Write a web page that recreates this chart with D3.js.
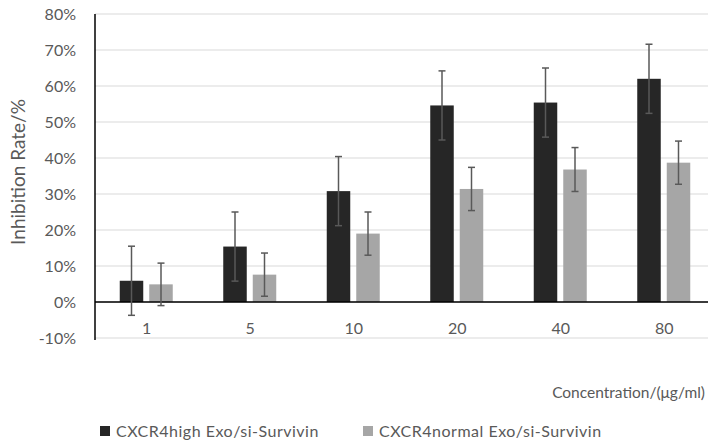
<!DOCTYPE html>
<html>
<head>
<meta charset="utf-8">
<script src="https://cdn.jsdelivr.net/npm/d3@7"></script>
<style>
  body { margin: 0; background: #fff; }
  text { font-family: Lato, "Open Sans", sans-serif; fill: #595959; }
</style>
</head>
<body>
<div id="chart"></div>
<script>
// data (percent)
var concentrations = ["1", "5", "10", "20", "40", "80"];
var seriesNames = ["CXCR4high Exo/si-Survivin", "CXCR4normal Exo/si-Survivin"];
var highValues = [5.9, 15.4, 30.8, 54.6, 55.4, 62.0];
var highErrors = [9.6, 9.6, 9.6, 9.6, 9.6, 9.6];
var normalValues = [4.9, 7.6, 19.0, 31.4, 36.8, 38.7];
var normalErrors = [5.9, 6.0, 6.0, 6.0, 6.1, 6.0];
var yTicks = [-10, 0, 10, 20, 30, 40, 50, 60, 70, 80];
var colors = ["#262626", "#a6a6a6"];

var width = 708, height = 442;
var margin = { top: 14, left: 95, bottom: 338, right: 716 };

var svg = d3.select("#chart").append("svg")
    .attr("width", width)
    .attr("height", height);

var x = d3.scaleBand()
    .domain(concentrations)
    .range([margin.left, margin.right]);

var y = d3.scaleLinear()
    .domain([-10, 80])
    .range([margin.bottom, margin.top]);

var data = concentrations.map(function(c, i) {
    return [
        { cat: c, s: 0, v: highValues[i], e: highErrors[i] },
        { cat: c, s: 1, v: normalValues[i], e: normalErrors[i] }
    ];
});
var flat = [].concat.apply([], data);

// gridlines
svg.append("g")
    .selectAll("line")
    .data(yTicks)
    .enter().append("line")
    .attr("x1", margin.left)
    .attr("x2", width)
    .attr("y1", function(d) { return y(d); })
    .attr("y2", function(d) { return y(d); })
    .style("stroke", "#d9d9d9")
    .style("stroke-width", 1);

// y tick labels
svg.append("g")
    .selectAll("text")
    .data(yTicks)
    .enter().append("text")
    .attr("x", 76)
    .attr("y", function(d) { return y(d); })
    .attr("dy", "0.35em")
    .attr("text-anchor", "end")
    .style("font-size", "16px")
    .text(function(d) { return d + "%"; });

var barW = 23.5, gap = 6;
function barX(d) {
    var c = x(d.cat) + x.bandwidth() / 2 - 0.5;
    return d.s === 0 ? c - gap / 2 - barW : c + gap / 2;
}

svg.append("g")
    .selectAll("rect")
    .data(flat)
    .enter().append("rect")
    .attr("x", barX)
    .attr("width", barW)
    .attr("y", function(d) { return y(Math.max(d.v, 0)); })
    .attr("height", function(d) { return Math.abs(y(d.v) - y(0)); })
    .style("fill", function(d) { return colors[d.s]; });

// axes lines
svg.append("line")
    .attr("x1", margin.left).attr("x2", width)
    .attr("y1", y(0)).attr("y2", y(0))
    .style("stroke", "#000").style("stroke-width", 1.5);

svg.append("line")
    .attr("x1", margin.left).attr("x2", margin.left)
    .attr("y1", margin.top).attr("y2", margin.bottom + 2)
    .style("stroke", "#000").style("stroke-width", 1.5);

// error bars
var err = svg.append("g")
    .selectAll("g")
    .data(flat)
    .enter().append("g")
    .style("stroke", "#595959")
    .style("stroke-width", 1.5);

err.append("line")
    .attr("x1", function(d) { return barX(d) + barW / 2; })
    .attr("x2", function(d) { return barX(d) + barW / 2; })
    .attr("y1", function(d) { return y(d.v + d.e); })
    .attr("y2", function(d) { return y(d.v - d.e); });

[1, -1].forEach(function(sign) {
    err.append("line")
        .attr("x1", function(d) { return barX(d) + barW / 2 - 3.5; })
        .attr("x2", function(d) { return barX(d) + barW / 2 + 3.5; })
        .attr("y1", function(d) { return y(d.v + sign * d.e); })
        .attr("y2", function(d) { return y(d.v + sign * d.e); });
});

// category labels
svg.append("g")
    .selectAll("text")
    .data(concentrations)
    .enter().append("text")
    .attr("x", function(d) { return x(d) + x.bandwidth() / 2; })
    .attr("y", 334)
    .attr("text-anchor", "middle")
    .style("font-size", "16px")
    .text(function(d) { return d; });

// axis titles
svg.append("text")
    .attr("transform", "translate(25,172) rotate(-90)")
    .attr("text-anchor", "middle")
    .style("font-size", "19px")
    .text("Inhibition Rate/%");

svg.append("text")
    .attr("x", 705)
    .attr("y", 398)
    .attr("text-anchor", "end")
    .style("font-size", "15.5px")
    .text("Concentration/(μg/ml)");

// legend
var legendX = [100, 363];
var legend = svg.append("g")
    .selectAll("g")
    .data(seriesNames)
    .enter().append("g")
    .attr("transform", function(d, i) { return "translate(" + legendX[i] + ",431)"; });

legend.append("rect")
    .attr("x", 0).attr("y", -5)
    .attr("width", 10).attr("height", 10)
    .style("fill", function(d, i) { return colors[i]; });

legend.append("text")
    .attr("x", 16)
    .attr("dy", "0.35em")
    .style("font-size", "16px")
    .style("letter-spacing", "0.5px")
    .text(function(d) { return d; });
</script>
</body>
</html>
